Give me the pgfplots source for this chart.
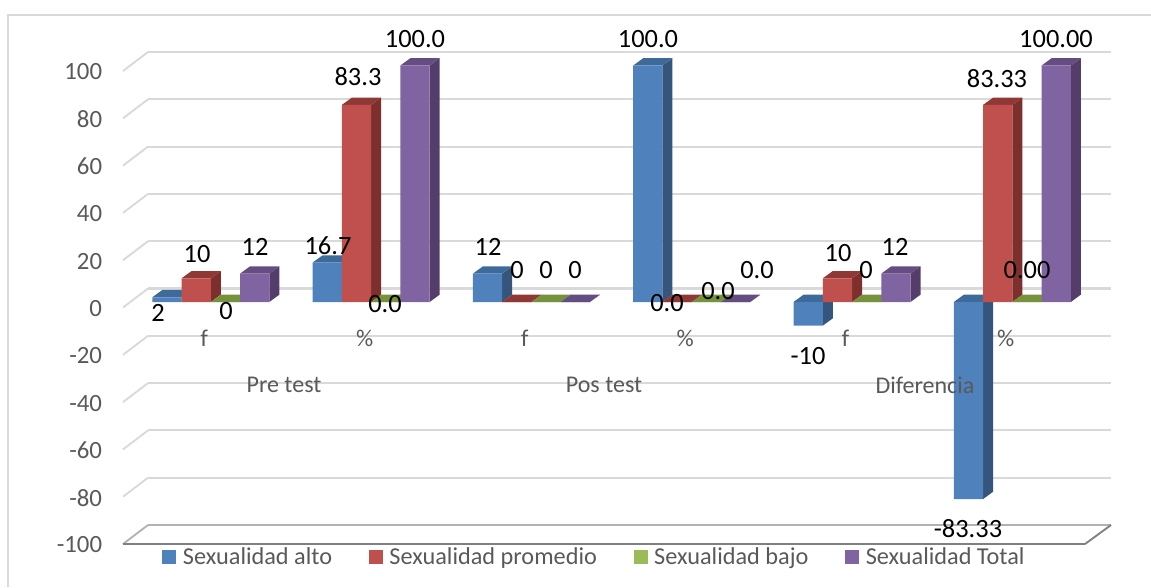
\documentclass[border=0pt]{standalone}
\usepackage{pgfplots}
\pgfplotsset{compat=1.18}
\usepackage{fontspec}
\setmainfont{Carlito}
\definecolor{blF}{HTML}{4F81BD}\definecolor{blS}{HTML}{35557D}\definecolor{blT}{HTML}{3E6A99}
\definecolor{reF}{HTML}{C0504D}\definecolor{reS}{HTML}{7D2F2D}\definecolor{reT}{HTML}{8F3835}
\definecolor{grF}{HTML}{9BBB59}\definecolor{grS}{HTML}{5F7730}\definecolor{grT}{HTML}{76923C}
\definecolor{puF}{HTML}{8064A2}\definecolor{puS}{HTML}{553D6B}\definecolor{puT}{HTML}{644D80}
\definecolor{gridc}{HTML}{D9D9D9}\definecolor{txt}{HTML}{595959}
\newlength{\pxl}\setlength{\pxl}{0.75pt}
% #1 category, #2 value, #3 bar shift in px, #4 side colour, #5 top colour
\newcommand{\depthbar}[5]{%
  \pgfmathsetmacro\xL{#1+(#3-14.625)/160.3}%
  \pgfmathsetmacro\xR{#1+(#3+14.625)/160.3}%
  \pgfmathsetmacro\xLd{\xL+10/160.3}%
  \pgfmathsetmacro\xRd{\xR+10/160.3}%
  \pgfmathsetmacro\yTop{max(#2,0)}%
  \pgfmathsetmacro\yBot{min(#2,0)}%
  \pgfmathsetmacro\yTopd{\yTop+7.3/2.365}%
  \pgfmathsetmacro\yBotd{\yBot+7.3/2.365}%
  \edef\temp{\noexpand\addplot[fill=#4,draw=none,forget plot] coordinates {(\xR,\yBot)(\xRd,\yBotd)(\xRd,\yTopd)(\xR,\yTop)} -- cycle;
  \noexpand\addplot[fill=#5,draw=none,forget plot] coordinates {(\xL,\yTop)(\xLd,\yTopd)(\xRd,\yTopd)(\xR,\yTop)} -- cycle;}%
  \temp}
\newcommand{\lab}[3]{\node[font=\fontsize{19.8}{20}\selectfont,text=black] at (#1,#2) {#3};}
\tikzset{px/.style={x=0.75pt,y=-0.75pt}}
\pgfplotsset{sqleg/.style={legend image code/.code={\fill[##1] (0pt,-5.2pt) rectangle (10.5pt,5.2pt);}}}
\begin{document}
\begin{tikzpicture}
\begin{scope}[px]
\path[use as bounding box] (0,0) rectangle (1151,587);
\draw[gridc,line width=1.5pt] (8,587) -- (8,15) -- (1151,15);
\end{scope}
% back wall with grid
\begin{axis}[at={(148\pxl,-525\pxl)},anchor=south west,scale only axis,
  width=963\pxl,height=473\pxl,xmin=0,xmax=1,ymin=-100,ymax=100,
  ytick={-100,-80,...,100},xtick=\empty,
  ymajorgrids,grid style={gridc,line width=1.6pt},
  axis line style={draw=none},tick style={draw=none},
  clip=false,
  /pgf/number format/assume math mode=true,
  yticklabel style={font=\fontsize{18.6}{20}\selectfont,text=txt,xshift=-43\pxl,yshift=-20\pxl,inner xsep=2pt}]
\end{axis}
\begin{scope}[px]
\foreach \yy in {52,99.3,146.6,193.9,241.2,288.5,335.8,383.1,430.4,477.7}{
  \draw[gridc,line width=1.4pt] (123,\yy+19) -- (148,\yy);}
\draw[black!30,line width=1.8pt] (148,525) -- (1111,525);
\draw[black!30,line width=1.4pt] (123,544) -- (148,525);
\draw[black!50,line width=1.4pt] (1085,544) -- (1111,525);
\draw[black!50,line width=1.8pt] (123,544) -- (1085,544);
\end{scope}
% bars plane
\begin{axis}[at={(123\pxl,-544\pxl)},anchor=south west,scale only axis,
  width=962\pxl,height=473\pxl,
  xmin=-0.5477,xmax=5.4535,ymin=-102.33,ymax=97.67,
  clip=false,
  axis y line=none,axis x line=bottom,
  axis line style={draw=none,-},tick style={draw=none},
  xtick={0,1,2,3,4,5},xticklabels={f,\%,f,\%,f,\%},
  xticklabel style={font=\fontsize{18}{20}\selectfont,text=txt,xshift=-6.5\pxl,yshift=166pt},
  legend style={at={(0.0406,-0.002)},anchor=north west,legend columns=4,draw=none,fill=none,
    font=\fontsize{18.2}{20}\selectfont,text=txt,inner sep=0pt,
    /tikz/every even column/.append style={column sep=25.5pt},
    /tikz/every odd column/.append style={column sep=3pt}},
]
% Series 1
\foreach \c/\v in {0/2,1/16.67,2/12,3/100,4/-10,5/-83.33}{\depthbar{\c}{\v}{-43.875}{blS}{blT}}
\addplot[ybar,sqleg,bar width=21.94pt,bar shift=-32.9pt,fill=blF,draw=none] coordinates {(0,2)(1,16.67)(2,12)(3,100)(4,-10)(5,-83.33)};
\addlegendentry{Sexualidad alto}
% Series 2
\foreach \c/\v in {0/10,1/83.33,2/0,3/0,4/10,5/83.33}{\depthbar{\c}{\v}{-14.625}{reS}{reT}}
\addplot[ybar,sqleg,bar width=21.94pt,bar shift=-10.97pt,fill=reF,draw=none] coordinates {(0,10)(1,83.33)(2,0)(3,0)(4,10)(5,83.33)};
\addlegendentry{Sexualidad promedio}
% Series 3
\foreach \c in {0,1,2,3,4,5}{\depthbar{\c}{0}{14.625}{grS}{grT}}
\addplot[ybar,sqleg,bar width=21.94pt,bar shift=10.97pt,fill=grF,draw=none] coordinates {(0,0)(1,0)(2,0)(3,0)(4,0)(5,0)};
\addlegendentry{Sexualidad bajo}
% Series 4
\foreach \c/\v in {0/12,1/100,2/0,3/0,4/12,5/100}{\depthbar{\c}{\v}{43.875}{puS}{puT}}
\addplot[ybar,sqleg,bar width=21.94pt,bar shift=32.9pt,fill=puF,draw=none] coordinates {(0,12)(1,100)(2,0)(3,0)(4,12)(5,100)};
\addlegendentry{Sexualidad Total}
\end{axis}
\begin{scope}[px]
% group labels
\foreach \xx/\tt in {284/Pre test,604/Pos test,925/Diferencia}{
  \node[font=\fontsize{18}{20}\selectfont,text=txt] at (\xx,385) {\tt};}
% data labels
\lab{158}{313}{2}\lab{197}{254}{10}\lab{226}{311}{0}\lab{255}{247}{12}
\lab{328}{246}{16.7}\lab{358}{77}{83.3}\lab{385}{304}{0.0}\lab{415}{39}{100.0}
\lab{488}{247}{12}\lab{517}{270}{0}\lab{546}{270}{0}\lab{575}{270}{0}
\lab{648}{39}{100.0}\lab{667}{303}{0.0}\lab{718}{291}{0.0}\lab{757}{270}{0.0}
\lab{808}{356}{-10}\lab{838}{253}{10}\lab{866}{270}{0}\lab{895}{247}{12}
\lab{968}{529}{-83.33}\lab{997}{79}{83.33}\lab{1027}{270}{0.00}\lab{1056}{39}{100.00}
\end{scope}
\end{tikzpicture}
\end{document}
